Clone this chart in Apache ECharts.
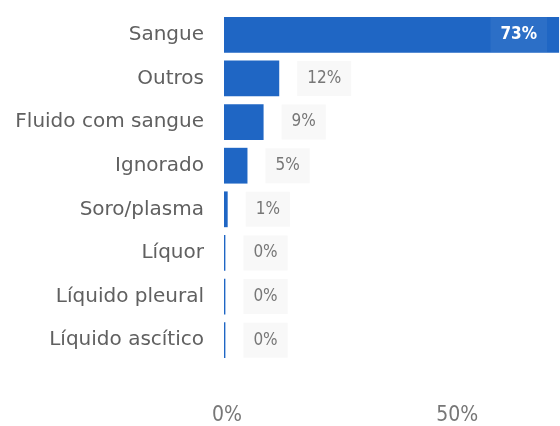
<!DOCTYPE html>
<html><head><meta charset="utf-8">
<script src="https://cdn.jsdelivr.net/npm/echarts@6/dist/echarts.min.js"></script>
<style>html,body{margin:0;padding:0;background:#fff}#c{width:560px;height:426px}</style>
</head><body><div id="c"></div>
<script>
const categories = ["Sangue","Outros","Fluido com sangue","Ignorado","Soro/plasma","Líquor","Líquido pleural","Líquido ascítico"];
const values = [72.8, 12.0, 8.6, 5.1, 0.8, 0.3, 0.3, 0.3];
const valueLabels = ["73%","12%","9%","5%","1%","0%","0%","0%"];
const xTicks = [0, 50];

const FONT = "DejaVu Sans Condensed";
const FONT2 = "DejaVu Sans";
const chart = echarts.init(document.getElementById('c'), null, {renderer:'canvas'});
chart.setOption({
  animation:false,
  grid:{left:224, right:-5, top:13, height:351, containLabel:false},
  xAxis:{type:'value', min:0, max:73, interval:50,
    axisLine:{show:false}, axisTick:{show:false}, splitLine:{show:false},
    axisLabel:{color:'#777', fontFamily:FONT, fontSize:21, margin:43, showMaxLabel:false,
      padding:[0,0,0,6],
      formatter:v=> xTicks.indexOf(v)>=0 ? v+'%' : ''}},
  yAxis:{type:'category', data:categories, inverse:true,
    axisLine:{show:false}, axisTick:{show:false},
    axisLabel:{color:'#606060', fontFamily:FONT2, fontSize:20, margin:20}},
  series:[{type:'bar', data:values.map((v,i)=>({value:v,
      label: i===0 ? {position:'insideRight', distance:12, color:'#fff', fontWeight:'bold',
        backgroundColor:'rgba(255,255,255,0.06)', padding:[9,10]} : {}})),
    barCategoryGap:'18%',
    itemStyle:{color:'#1f66c4'},
    label:{show:true, position:'right', distance:18, color:'#777', fontFamily:FONT, fontSize:17,
      backgroundColor:'#f8f8f8', padding:[9,10],
      formatter:p=>valueLabels[p.dataIndex]}
  }]
});
</script></body></html>
